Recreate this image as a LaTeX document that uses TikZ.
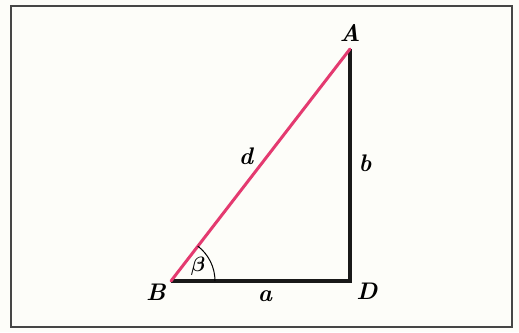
\documentclass[tikz,border=0pt]{standalone}
\begin{document}
\begin{tikzpicture}[x=1pt,y=-1pt,
  lbl/.style={font=\fontsize{24}{28}\selectfont\itshape\bfseries, inner sep=0pt},
  side/.style={line width=3.2pt, black!90},
  hyp/.style={line width=3pt, color=pinkline, line cap=round}]
\definecolor{pinkline}{RGB}{228,58,112}
\definecolor{bg}{RGB}{253,253,249}
\definecolor{frame}{RGB}{70,70,70}
\useasboundingbox (0,0) rectangle (519,332);
\fill[bg] (0,0) rectangle (519,332);
\draw[frame, line width=1.6pt] (11,6) rectangle (512,327);
\coordinate (B) at (171,281);
\coordinate (D) at (350,281);
\coordinate (A) at (350,49);
\draw[side] (B) -- (D) -- (A);
\draw[hyp] (B) -- (A);
\draw[line width=1pt] ([shift={(0:44)}]B) arc[start angle=0, end angle=-52.5, radius=44];
\node[lbl] (lA) at (350,33) {A};
\node[lbl] (lB) at (156,292) {B};
\node[lbl] (lD) at (367,291) {D};
\node[lbl] (la) at (265,296) {a};
\node[lbl] (lb) at (365,163) {b};
\node[lbl] (ld) at (246,156) {d};
\node[lbl, font=\fontsize{22}{26}\selectfont\mathversion{bold}] (lbeta) at (198,266) {$\beta$};
\end{tikzpicture}
\end{document}
